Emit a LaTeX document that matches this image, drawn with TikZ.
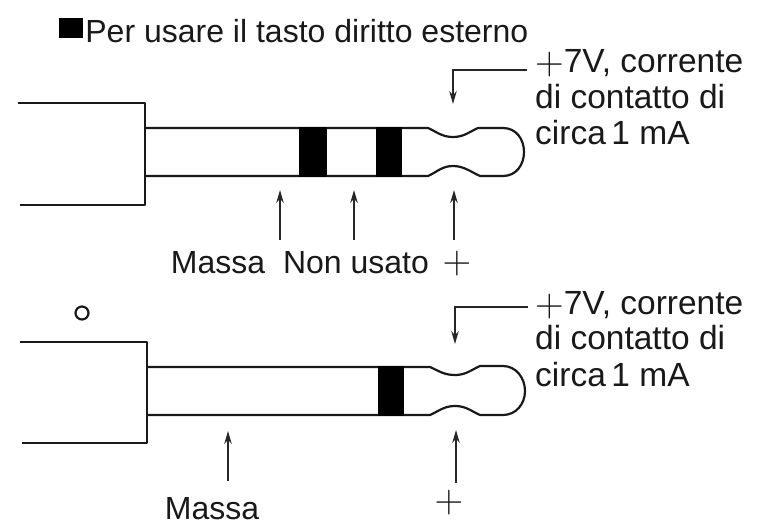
\documentclass[tikz,border=0pt]{standalone}
\usepackage{fontspec}
\setmainfont{Liberation Sans}
\usetikzlibrary{positioning}
\usetikzlibrary{arrows.meta}

\newcommand{\bigplus}{\raisebox{-2pt}{\scalebox{1.6}{$+$}}}

\tikzset{
	jack/.style={line width=2.2pt, black!90, line join=round},
	band/.style={fill=black, draw=none},
	pointer/.style={line width=1.5pt, black!85, -{Stealth[length=13pt,width=7.5pt]}},
	caption/.style={inner sep=0pt, font=\fontsize{32}{37}\selectfont, align=left, black!90},
	note/.style={caption, font=\fontsize{33.5}{36}\selectfont},
}

\begin{document}
\begin{tikzpicture}[x=1pt,y=-1pt]
	
	% ------------------------------------------------
	% Ensure the dimensions of graphic are appropriate
	\useasboundingbox (0,0) rectangle (760,526);
	
	% ------------------------------------------------
	% Title
	\node[band, minimum width=24pt, minimum height=20pt, inner sep=0pt] (Mark) at (71,28) {};
	\node[caption, right = 2pt of Mark, yshift=-3pt] (Title) {Per usare il tasto diritto esterno};
	
	% ------------------------------------------------
	% Upper plug
	\coordinate (TopBodyA) at (18,103);
	\coordinate (TopBodyB) at (145,103);
	\coordinate (TopBodyC) at (145,205);
	\coordinate (TopBodyD) at (20,205);
	\draw[jack] (TopBodyA) -- (TopBodyB) -- (TopBodyC) -- (TopBodyD);
	
	\draw[jack] (145,128) -- (428,128) .. controls (437,132) and (442,137) .. (453,137)
		.. controls (464,137) and (469,132) .. (478,128) -- (503,128)
		.. controls (516,128) and (524,139) .. (524,152)
		.. controls (524,165) and (516,176) .. (503,176) -- (480,176)
		.. controls (471,172) and (464,166) .. (453,166)
		.. controls (442,166) and (437,172) .. (428,176) -- (145,176);
	
	\fill[band] (299,127) rectangle (327,177);
	\fill[band] (376,127) rectangle (402,177);
	
	% Labels
	\node[note, anchor=base west] (TopNote) at (535,145) {\bigplus 7V, corrente\\di contatto di\\circa\,1 mA};
	\node[caption, anchor=base] (TopMassa) at (218,274) {Massa};
	\node[caption, anchor=base] (TopFree) at (356,274) {Non usato};
	\node[caption, anchor=base] (TopPlus) at (457,272) {\bigplus};
	
	% Pointers
	\coordinate (TopNoteEnd) at (527,70);
	\coordinate (TopCorner) at (453,70);
	\coordinate (TopTip) at (453,104);
	\draw[pointer] (TopNoteEnd) -- (TopCorner) -- (TopTip);
	
	\coordinate (TopMassaFrom) at (280,240);
	\coordinate (TopMassaTo) at (280,190);
	\draw[pointer] (TopMassaFrom) -- (TopMassaTo);
	\coordinate (TopFreeFrom) at (354,240);
	\coordinate (TopFreeTo) at (354,190);
	\draw[pointer] (TopFreeFrom) -- (TopFreeTo);
	\coordinate (TopPlusFrom) at (454,240);
	\coordinate (TopPlusTo) at (454,190);
	\draw[pointer] (TopPlusFrom) -- (TopPlusTo);
	
	% ------------------------------------------------
	% Lower plug
	\draw[line width=2.2pt, black!90] (82,313) circle (6.5);
	
	\coordinate (LowBodyA) at (20,342);
	\coordinate (LowBodyB) at (147,342);
	\coordinate (LowBodyC) at (147,443);
	\coordinate (LowBodyD) at (22,443);
	\draw[jack] (LowBodyA) -- (LowBodyB) -- (LowBodyC) -- (LowBodyD);
	
	\draw[jack] (147,367) -- (430,367) .. controls (439,371) and (444,375) .. (455,375)
		.. controls (466,375) and (471,370) .. (480,366) -- (503,366)
		.. controls (516,366) and (525,378) .. (525,391)
		.. controls (525,404) and (516,415) .. (503,415) -- (480,415)
		.. controls (471,411) and (466,406) .. (455,406)
		.. controls (444,406) and (439,411) .. (430,415) -- (147,415);
	
	\fill[band] (378,366) rectangle (404,416);
	
	% Labels
	\node[note, anchor=base west] (LowNote) at (535,386) {\bigplus 7V, corrente\\di contatto di\\circa\,1 mA};
	\node[caption, anchor=base] (LowMassa) at (212,519) {Massa};
	\node[caption, anchor=base] (LowPlus) at (449,510) {\bigplus};
	
	% Pointers
	\coordinate (LowNoteEnd) at (528,307);
	\coordinate (LowCorner) at (455,307);
	\coordinate (LowTip) at (455,344);
	\draw[pointer] (LowNoteEnd) -- (LowCorner) -- (LowTip);
	
	\coordinate (LowMassaFrom) at (228,481);
	\coordinate (LowMassaTo) at (228,431);
	\draw[pointer] (LowMassaFrom) -- (LowMassaTo);
	\coordinate (LowPlusFrom) at (456,483);
	\coordinate (LowPlusTo) at (456,430);
	\draw[pointer] (LowPlusFrom) -- (LowPlusTo);
	
\end{tikzpicture}
\end{document}
